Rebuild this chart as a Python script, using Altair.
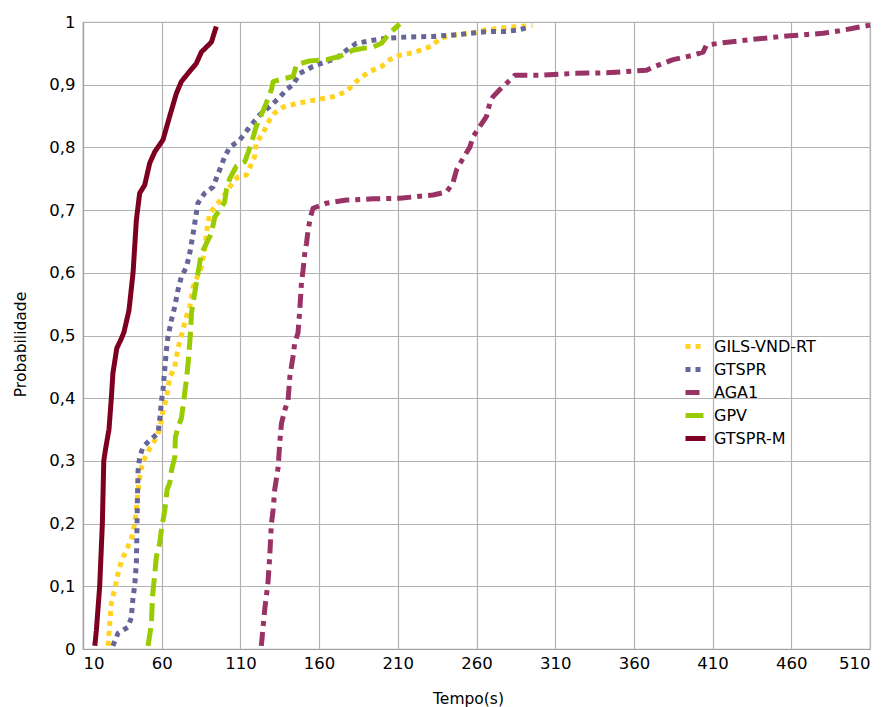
import altair as alt
import pandas as pd

series_names = ["GILS-VND-RT", "GTSPR", "AGA1", "GPV", "GTSPR-M"]
series_colors = ["#FFD320", "#666699", "#993366", "#99CC00", "#7E0021"]
series_dashes = [[5, 5], [5, 5], [14, 6, 5, 6], [18, 7], [1, 0]]

gils_x = [25.9, 27, 28, 30, 32.2, 34.4, 37.5, 40.7, 42.8, 43.9, 45, 46, 47, 49.2, 52.4, 55.6, 58.7, 60.8, 63, 65,
          68.3, 70.4, 72.5, 75.7, 77.8, 80, 83, 85.2, 87.3, 88.4, 89.4, 90.5, 94.7, 99, 102, 105.3, 108.5, 113.8,
          119, 120, 124.4, 128.6, 131.8, 137, 145.6, 158.3, 169, 177.4, 181.5, 185.8, 192, 199.6, 204.9, 211.2,
          219.7, 228, 232.4, 236.6, 245, 257.8, 267, 274.8, 281, 288.6, 295.5]
gils_y = [0.005, 0.04, 0.073, 0.094, 0.12, 0.14, 0.158, 0.174, 0.2, 0.222, 0.254, 0.274, 0.288, 0.304, 0.32, 0.333,
          0.35, 0.38, 0.4, 0.432, 0.45, 0.48, 0.5, 0.53, 0.545, 0.578, 0.596, 0.609, 0.636, 0.663, 0.679, 0.695,
          0.708, 0.721, 0.732, 0.745, 0.753, 0.756, 0.785, 0.807, 0.823, 0.844, 0.855, 0.864, 0.87, 0.876, 0.881,
          0.889, 0.9, 0.91, 0.921, 0.929, 0.94, 0.947, 0.951, 0.958, 0.963, 0.974, 0.979, 0.983, 0.988, 0.99,
          0.992, 0.993, 0.995]

gtspr_x = [29, 32.2, 38.6, 40.7, 41.8, 42.8, 43.9, 44.3, 44.6, 45, 46, 48.1, 52.4, 57.7, 58.7, 59.8, 60.8, 61.9,
           63, 64, 66.2, 68.3, 70.4, 72.5, 75.7, 77.8, 80, 82, 83, 87.3, 92.6, 96.8, 100, 103.2, 109.6, 116, 122.3,
           128.6, 135, 139.2, 143.4, 147.7, 156, 164.6, 171, 177.4, 183.7, 194.3, 202.8, 215.5, 232.4, 249.4, 256,
           264, 271.6, 279, 286, 294]
gtspr_y = [0.005, 0.025, 0.035, 0.05, 0.083, 0.1, 0.137, 0.19, 0.243, 0.285, 0.306, 0.322, 0.333, 0.344, 0.365,
           0.394, 0.413, 0.445, 0.477, 0.498, 0.525, 0.546, 0.573, 0.594, 0.609, 0.631, 0.663, 0.695, 0.711, 0.727,
           0.737, 0.764, 0.785, 0.8, 0.812, 0.833, 0.852, 0.865, 0.88, 0.892, 0.9, 0.918, 0.929, 0.937, 0.942,
           0.955, 0.966, 0.971, 0.974, 0.976, 0.977, 0.98, 0.982, 0.984, 0.985, 0.985, 0.987, 0.992]

aga_x = [123.3, 125.4, 127.5, 128.6, 129.7, 130.8, 131.8, 134, 135, 136.1, 138.2, 140.3, 141.4, 143.4, 144.5,
         146.6, 147.7, 148.8, 149.8, 150.9, 152, 153, 154.5, 156.2, 164.6, 177.4, 194.3, 211.3, 232.4, 240.9, 245,
         247.3, 251.5, 255.7, 257.8, 262, 266.3, 268.4, 270.5, 274.7, 279, 284.3, 300, 321.4, 342.6, 368, 373.2,
         384.9, 397.6, 404, 406, 416.6, 437.8, 459, 480.2, 490.8, 499.3, 510]
aga_y = [0.005, 0.062, 0.105, 0.147, 0.2, 0.222, 0.254, 0.29, 0.329, 0.36, 0.381, 0.397, 0.434, 0.466, 0.488,
         0.504, 0.54, 0.584, 0.604, 0.631, 0.647, 0.668, 0.689, 0.703, 0.711, 0.716, 0.718, 0.719, 0.724, 0.729,
         0.743, 0.764, 0.783, 0.8, 0.817, 0.833, 0.849, 0.87, 0.881, 0.892, 0.902, 0.915, 0.915, 0.918, 0.919,
         0.923, 0.929, 0.94, 0.947, 0.952, 0.963, 0.967, 0.973, 0.978, 0.982, 0.986, 0.99, 0.995]

gpv_x = [51.3, 53.5, 54.1, 55.6, 56.6, 58.7, 59.8, 62, 63.4, 65.1, 66.2, 68.3, 68.7, 70.4, 72.5, 73.5, 74.6, 75.7,
         76.8, 77.8, 78.4, 78.9, 81, 82, 83.7, 85.2, 87.3, 89.4, 91.6, 93.7, 96.8, 100, 101.1, 103.2, 107.4, 112.7,
         114.8, 117, 120, 123.3, 126.5, 129.7, 130.8, 138.2, 143.5, 145.6, 154, 164.6, 173, 181.5, 187.9, 194.3,
         199.6, 202.8, 207, 211.2]
gpv_y = [0.005, 0.04, 0.083, 0.12, 0.147, 0.169, 0.19, 0.222, 0.254, 0.265, 0.285, 0.306, 0.338, 0.354, 0.368,
         0.386, 0.408, 0.429, 0.456, 0.488, 0.509, 0.536, 0.568, 0.584, 0.609, 0.631, 0.641, 0.652, 0.663, 0.689,
         0.7, 0.713, 0.732, 0.75, 0.77, 0.777, 0.791, 0.807, 0.833, 0.852, 0.871, 0.892, 0.905, 0.91, 0.913, 0.932,
         0.938, 0.94, 0.945, 0.955, 0.958, 0.96, 0.966, 0.976, 0.987, 0.997]

gtsprm_x = [17.5, 18.5, 20.6, 22.3, 23.2, 24.4, 26.5, 28, 29, 31.5, 34, 36, 39.2, 41.8, 43.9, 46, 49.2, 52.4, 55.6,
            60.8, 65, 69.3, 72.5, 76.7, 82, 85.2, 91.6, 94.7]
gtsprm_y = [0.005, 0.03, 0.1, 0.2, 0.3, 0.32, 0.35, 0.4, 0.44, 0.48, 0.493, 0.505, 0.54, 0.6, 0.684, 0.727, 0.74,
            0.775, 0.793, 0.812, 0.849, 0.886, 0.905, 0.918, 0.934, 0.952, 0.968, 0.993]

x_ticks = [10, 60, 110, 160, 210, 260, 310, 360, 410, 460, 510]
y_ticks = [0, 0.1, 0.2, 0.3, 0.4, 0.5, 0.6, 0.7, 0.8, 0.9, 1.0]

rows = []
for name, xs, ys in [("GILS-VND-RT", gils_x, gils_y), ("GTSPR", gtspr_x, gtspr_y), ("AGA1", aga_x, aga_y),
                     ("GPV", gpv_x, gpv_y), ("GTSPR-M", gtsprm_x, gtsprm_y)]:
    for i, (xv, yv) in enumerate(zip(xs, ys)):
        rows.append({"serie": name, "t": xv, "p": yv, "ord": i})
df = pd.DataFrame(rows)

legend_cfg = dict(
    title=None, orient="none", legendX=600, legendY=312, symbolType="stroke", symbolSize=400,
    symbolStrokeWidth=5, labelFont="DejaVu Sans", labelFontSize=16, labelColor="#000000",
    rowPadding=-0.5, labelOffset=6,
)

chart = alt.Chart(df).mark_line(strokeWidth=5, strokeCap="butt", strokeJoin="round").encode(
    x=alt.X("t:Q", scale=alt.Scale(domain=[10, 510], nice=False, zero=False),
            axis=alt.Axis(values=x_ticks, title="Tempo(s)", grid=True, ticks=False, labelPadding=6,
                          titlePadding=20, titleX=385)),
    y=alt.Y("p:Q", scale=alt.Scale(domain=[0, 1], nice=False),
            axis=alt.Axis(values=y_ticks, title="Probabilidade", grid=True, ticks=False, labelPadding=8,
                          labelExpr="replace(format(datum.value, '~g'), '.', ',')", titlePadding=20,
                          titleY=322)),
    color=alt.Color("serie:N", scale=alt.Scale(domain=series_names, range=series_colors),
                    legend=alt.Legend(**legend_cfg)),
    strokeDash=alt.StrokeDash("serie:N", scale=alt.Scale(domain=series_names, range=series_dashes),
                              legend=alt.Legend(**legend_cfg)),
    order=alt.Order("ord:Q"),
).properties(
    width=787, height=627,
    autosize=alt.AutoSizeParams(type="none"),
    padding={"left": 75, "top": 14, "right": 12, "bottom": 58},
).configure_axis(
    gridColor="#b3b3b3", gridWidth=1.2, domainColor="#a0a0a0", domainWidth=1.2,
    labelFont="DejaVu Sans", labelFontSize=16.5, labelColor="#000000",
    titleFont="DejaVu Sans", titleFontSize=15.5, titleFontWeight="normal", titleColor="#000000",
).configure_view(stroke="#b3b3b3", strokeWidth=1.2)

chart.save("out.html", embed_options={"renderer": "svg", "actions": False})
